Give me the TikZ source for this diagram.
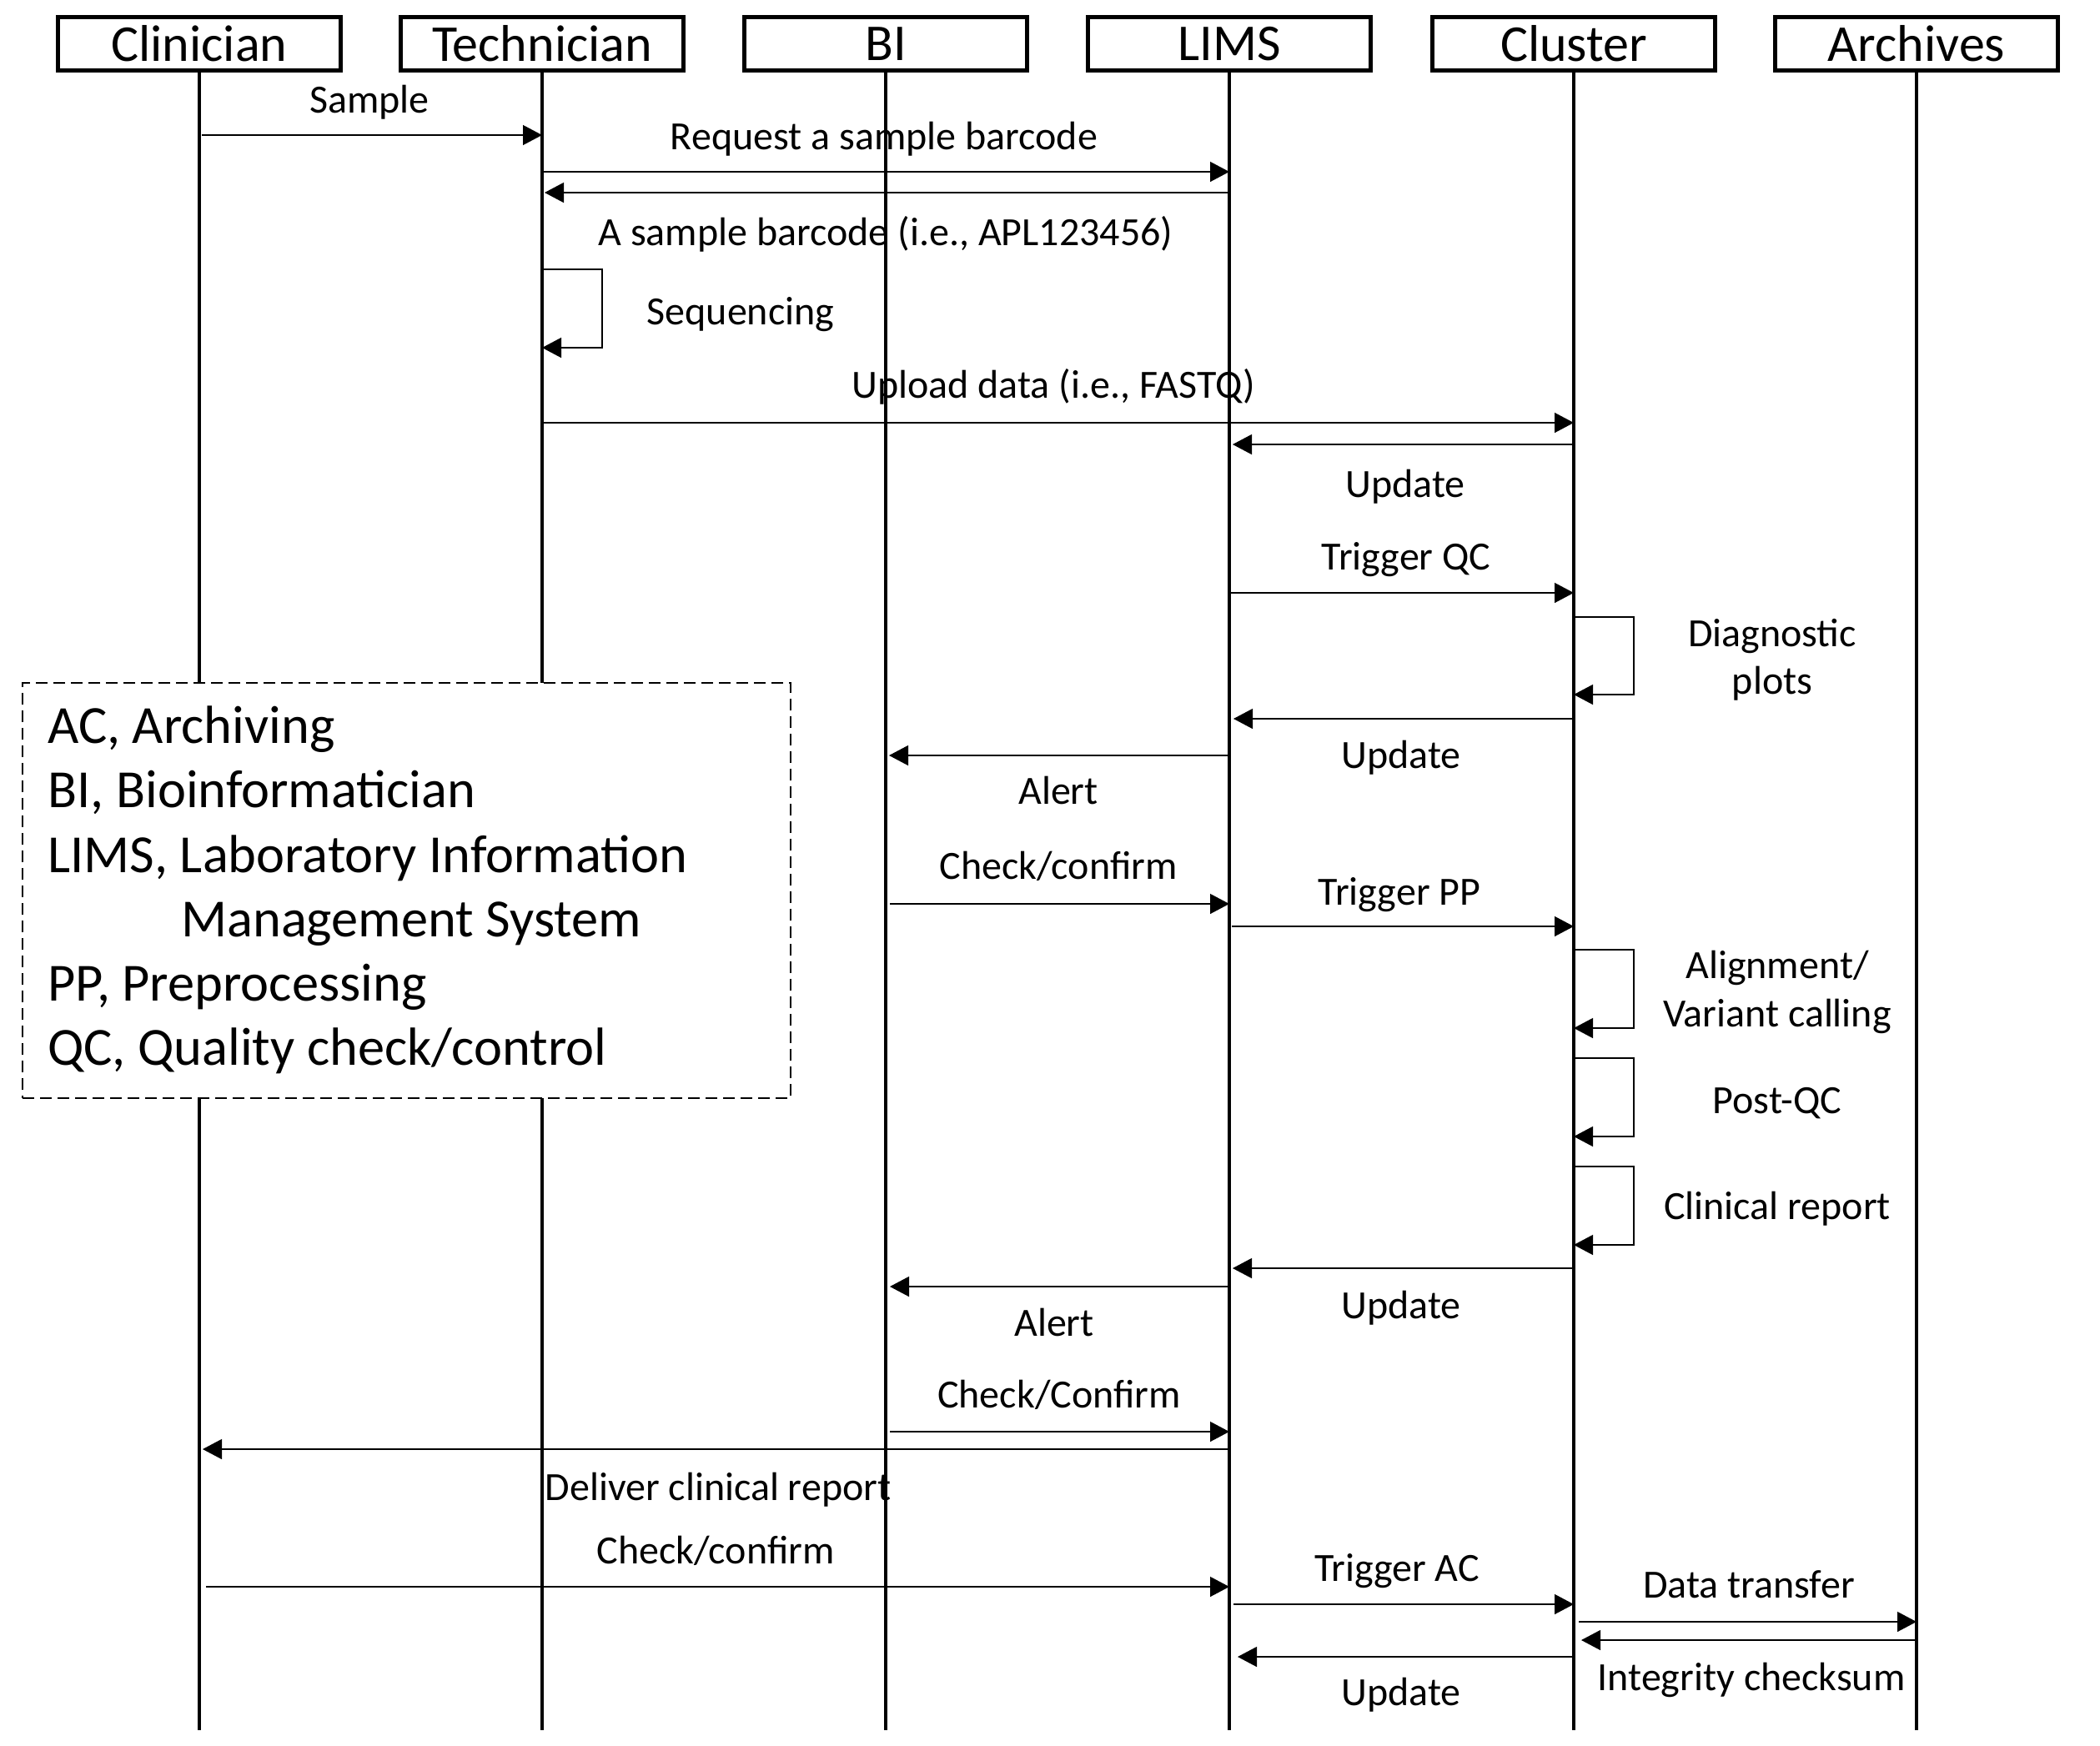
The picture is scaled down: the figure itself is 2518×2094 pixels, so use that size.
\documentclass[tikz,border=0pt]{standalone}
\usepackage{fontspec}
\setmainfont{Carlito}
\usetikzlibrary{arrows.meta}
% message between two lifelines at height #3
\newcommand\callmsg[3]{\draw[msg] (#1 |- 0,#3) -- (#2 |- 0,#3);}
% same, with the start and the tip moved sideways by #4 and #5
\newcommand\callmsgx[5]{\draw[msg] ([xshift=#4*0.5pt]#1 |- 0,#3) -- ([xshift=#5*0.5pt]#2 |- 0,#3);}
% self call on lifeline #1 from height #2 to #3
\newcommand\selfcall[3]{\draw[msg] (#1 |- 0,#2) -- ++(72,0) |- (#1 |- 0,#3);}
\begin{document}
\begin{tikzpicture}[x=0.5pt,y=-0.5pt,
  actor/.style={draw,line width=2.5pt,minimum width=169.5pt,minimum height=32pt,
    inner sep=0pt,font=\fontsize{31}{37}\selectfont},
  life/.style={line width=1.6pt},
  msg/.style={line width=0.65pt,-{Triangle[length=11.5pt,width=12pt]}},
  lbl/.style={anchor=base,inner sep=0pt,font=\fontsize{24}{29}\selectfont},
  keybox/.style={draw,fill=white,line width=1.2pt,dash pattern=on 7pt off 3.5pt,
    minimum width=460.5pt,minimum height=249pt,inner sep=0pt},
  keyline/.style={anchor=base west,inner sep=0pt,font=\fontsize{32.2}{38}\selectfont}]
\useasboundingbox (0,0) rectangle (2518,2094);

% participants
\foreach \n/\x/\t in {clin/239/Clinician,tech/650/Technician,bi/1062/BI,
                      lims/1474/LIMS,clus/1887/Cluster,arch/2298/Archives}
  \node[actor] (\n) at (\x,52.5) {\t};

% lifelines
\foreach \n in {clin,tech,bi,lims,clus,arch}
  \draw[life] (\n.south) -- (\n |- 0,2075);

% abbreviations
\node[keybox] (key) at (487.5,1068) {};
\node[keyline] (k1) at (57,891) {AC, Archiving};
\node[keyline] (k2) at (57,968) {BI, Bioinformatician};
\node[keyline] (k3) at (57,1046) {LIMS, Laboratory Information};
\node[keyline] (k4) at (217,1123) {Management System};
\node[keyline] (k5) at (57,1200) {PP, Preprocessing};
\node[keyline] (k6) at (57,1277) {QC, Quality check/control};

% messages
\callmsgx{clin}{tech}{162}{3}{0}
\node[lbl] (m1) at (443,135) {Sample};
\callmsg{tech}{lims}{206}
\node[lbl] (m2) at (1060,179) {Request a sample barcode};
\callmsgx{lims}{tech}{231}{0}{3}
\node[lbl] (m3) at (1062,294) {A sample barcode (i.e., APL123456)};
\selfcall{tech}{323}{417}
\node[lbl] (m4) at (888,389) {Sequencing};
\callmsg{tech}{clus}{507}
\node[lbl] (m5) at (1263,477) {Upload data (i.e., FASTQ)};
\callmsgx{clus}{lims}{533}{0}{4}
\node[lbl] (m6) at (1685,596) {Update};
\callmsgx{lims}{clus}{711}{2}{0}
\node[lbl] (m7) at (1686,683) {Trigger QC};
\selfcall{clus}{740}{833}
\node[lbl] (m8a) at (2125,775) {Diagnostic};
\node[lbl] (m8b) at (2125,832) {plots};
\callmsgx{clus}{lims}{862}{0}{5}
\node[lbl] (m9) at (1680,921) {Update};
\callmsgx{lims}{bi}{906}{0}{4}
\node[lbl] (m10) at (1269,964) {Alert};
\callmsgx{bi}{lims}{1084}{5}{0}
\node[lbl] (m11) at (1269,1054) {Check/confirm};
\callmsgx{lims}{clus}{1111}{3}{0}
\node[lbl] (m12) at (1678,1085) {Trigger PP};
\selfcall{clus}{1139}{1233}
\node[lbl] (m13a) at (2131,1173) {Alignment/};
\node[lbl] (m13b) at (2131,1231) {Variant calling};
\selfcall{clus}{1269}{1363}
\node[lbl] (m14) at (2131,1335) {Post-QC};
\selfcall{clus}{1399}{1493}
\node[lbl] (m15) at (2131,1462) {Clinical report};
\callmsgx{clus}{lims}{1521}{0}{4}
\node[lbl] (m16) at (1680,1581) {Update};
\callmsgx{lims}{bi}{1543}{0}{5}
\node[lbl] (m17) at (1264,1602) {Alert};
\callmsgx{bi}{lims}{1717}{5}{0}
\node[lbl] (m18) at (1270,1688) {Check/Confirm};
\callmsgx{lims}{clin}{1738}{0}{4}
\node[lbl] (m19) at (861,1799) {Deliver clinical report};
\callmsgx{clin}{lims}{1903}{8}{0}
\node[lbl] (m20) at (858,1875) {Check/confirm};
\callmsgx{lims}{clus}{1924}{5}{0}
\node[lbl] (m21) at (1675,1896) {Trigger AC};
\callmsgx{clus}{arch}{1945}{6}{0}
\node[lbl] (m22) at (2097,1916) {Data transfer};
\callmsgx{arch}{clus}{1967}{0}{9}
\node[lbl] (m23) at (2100,2027) {Integrity checksum};
\callmsgx{clus}{lims}{1987}{0}{10}
\node[lbl] (m24) at (1680,2045) {Update};
\end{tikzpicture}
\end{document}
